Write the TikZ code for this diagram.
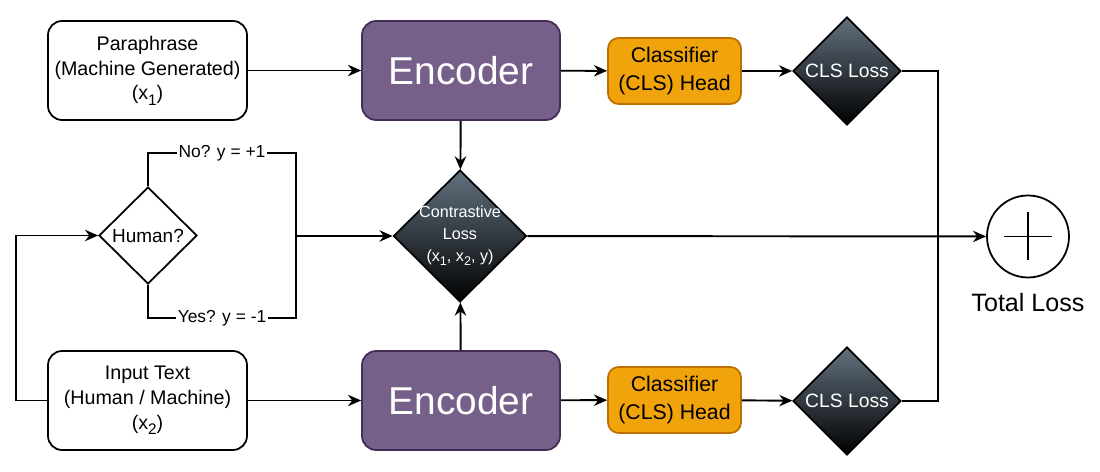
\documentclass[tikz,border=0pt]{standalone}
\usepackage{fontspec}
\setmainfont{Liberation Sans}
\usepackage{xcolor,graphicx}
\definecolor{encpurple}{HTML}{76608A}
\definecolor{encline}{HTML}{432D57}
\definecolor{clsorange}{HTML}{F0A30A}
\definecolor{clsline}{HTML}{BD7000}
\definecolor{losstop}{HTML}{62717F}
\usetikzlibrary{shapes.geometric,arrows.meta}
\newcommand{\xsub}[1]{x\raisebox{-0.5ex}{\scalebox{0.78}{#1}}}

\begin{document}
\begin{tikzpicture}[
    x=0.02cm, y=-0.02cm,
    box/.style={draw, line width=1pt, rounded corners=8pt, fill=white, minimum width=3.98cm, minimum height=1.98cm, align=center, font=\fontsize{11.2}{14.2}\selectfont},
    enc/.style={draw=encline, line width=1pt, rounded corners=8pt, fill=encpurple, text=white, minimum width=3.96cm, minimum height=1.98cm, font=\fontsize{22.1}{26}\selectfont},
    head/.style={draw=clsline, line width=1pt, rounded corners=6pt, fill=clsorange, minimum width=2.66cm, minimum height=1.32cm, align=center, font=\fontsize{12.1}{16.4}\selectfont},
    lossd/.style={diamond, aspect=1, draw, line width=1pt, top color=losstop, bottom color=black, text=white, minimum width=2.16cm, minimum height=2.16cm, inner sep=0pt, align=center, font=\fontsize{11}{13}\selectfont},
    decide/.style={diamond, aspect=1, draw, line width=1pt, fill=white, minimum width=1.96cm, minimum height=1.94cm, inner sep=0pt, font=\fontsize{10.8}{13}\selectfont},
    sumc/.style={circle, draw, line width=1pt, fill=white, minimum size=1.64cm, inner sep=0pt},
    tag/.style={fill=white, inner sep=1pt, font=\fontsize{9.9}{12}\selectfont},
    arr/.style={-{Stealth[length=7.5pt,width=6.5pt]}, line width=1.1pt},
    ln/.style={line width=1.1pt}
]
\useasboundingbox (0,0) rectangle (1100,472);

% Inputs
\node[box] (para) at (147.5,70.5) {Paraphrase\\(Machine Generated)\\(\xsub{1})};
\node[box] (inp) at (147.5,400.5) {Input Text\\(Human / Machine)\\(\xsub{2})};

% Encoders
\node[enc] (enc1) at (461,70.5) {Encoder};
\node[enc] (enc2) at (461,400.5) {Encoder};

% Heads
\node[head] (head1) at (674.5,71) {Classifier\\(CLS) Head};
\node[head] (head2) at (674.5,400) {Classifier\\(CLS) Head};

% Losses
\node[lossd] (cls1) at (847,71) {CLS Loss};
\node[lossd] (cls2) at (847,401) {CLS Loss};
\node[lossd, minimum width=2.66cm, minimum height=2.64cm, inner sep=-5pt, font=\fontsize{9.2}{12.5}\selectfont] (closs) at (460,236) {Contrastive\\Loss\\(\xsub{1}, \xsub{2}, y)};

% Label decision
\node[decide] (human) at (148,235.5) {Human?};

% Total
\node[sumc] (total) at (1028,236.5) {};
\draw[line width=1pt] (total.center) +(-24,0) -- +(24,0) (total.center) +(0,-24) -- +(0,24);
\node[font=\fontsize{14.3}{17}\selectfont] (totlab) at (1028,303) {Total Loss};

\coordinate (loopl) at (16,400.5);
\coordinate (nocorner) at (296,153);
\coordinate (yescorner) at (296,318);
\coordinate (merge) at (296,236);
\coordinate (join) at (938,236);

% Flow
\draw[arr] (para) -- (enc1);
\draw[arr] (inp) -- (enc2);
\draw[arr] (enc1) -- (head1);
\draw[arr] (enc2) -- (head2);
\draw[arr] (head1) -- (cls1);
\draw[arr] (head2) -- (cls2);
\draw[arr] (enc1) -- (closs);
\draw[arr] (enc2) -- (closs);
\draw[arr] (closs) -- (total);
\draw[ln] (cls1.east) -| (join) |- (cls2.east);

\draw[arr] (inp.west) -- (loopl) |- (human.west);
\draw[ln] (human.north) |- node[tag, pos=0.75] (nolab) {No? y = +1} (nocorner) -- (yescorner) -| node[tag, pos=0.25] (yeslab) {Yes? y = -1} (human.south);
\draw[arr] (merge) -- (closs);

\end{tikzpicture}
\end{document}
